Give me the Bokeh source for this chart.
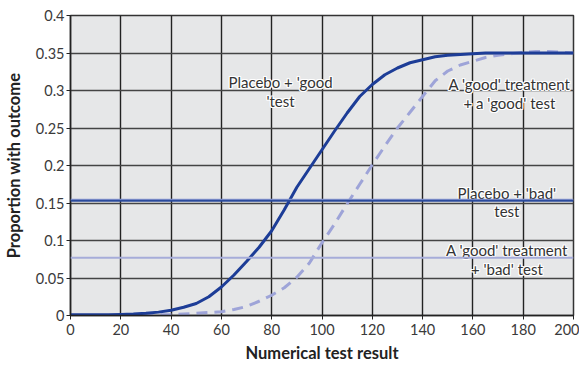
from bokeh.plotting import figure
from bokeh.embed import file_html
from bokeh.resources import INLINE
from bokeh.models import FixedTicker, Span, ColumnDataSource
from bokeh.core.properties import value

# ---- data ----
x_vals = [0, 5, 10, 15, 20, 25, 30, 35, 40, 45, 50, 55, 60, 65, 70, 75, 80, 85, 90, 95, 100,
          105, 110, 115, 120, 125, 130, 135, 140, 145, 150, 155, 160, 165, 170, 175, 180,
          185, 190, 195, 200]
placebo_good = [0.001, 0.001, 0.001, 0.001, 0.0015, 0.002, 0.003, 0.0045, 0.007, 0.011, 0.016,
                0.025, 0.038, 0.054, 0.072, 0.091, 0.113, 0.141, 0.171, 0.196, 0.221,
                0.246, 0.270, 0.292, 0.308, 0.321, 0.330, 0.337, 0.341, 0.345, 0.347,
                0.348, 0.349, 0.350, 0.350, 0.350, 0.350, 0.350, 0.350, 0.350, 0.350]
treat_good = [0.0, 0.0, 0.0, 0.0, 0.0, 0.0, 0.0005, 0.001, 0.001, 0.002, 0.003,
              0.004, 0.005, 0.008, 0.012, 0.019, 0.027, 0.037, 0.051, 0.070, 0.097,
              0.122, 0.149, 0.175, 0.201, 0.226, 0.250, 0.271, 0.292, 0.313, 0.326,
              0.334, 0.339, 0.344, 0.347, 0.349, 0.351, 0.352, 0.352, 0.351, 0.350]
placebo_bad = 0.153
treat_bad = 0.077

x_ticks = [0, 20, 40, 60, 80, 100, 120, 140, 160, 180, 200]
x_tick_labels = ["0", "20", "40", "60", "80", "100", "120", "140", "160", "180", "200"]
y_ticks = [0, 0.05, 0.1, 0.15, 0.2, 0.25, 0.3, 0.35, 0.4]
y_tick_labels = ["0", "0.05", "0.1", "0.15", "0.2", "0.25", "0.3", "0.35", "0.4"]

x_title = "Numerical test result"
y_title = "Proportion with outcome"

ann_x = [83.5, 83.5, 174.5, 174.5, 173.5, 173.5, 173.5, 173.5]
ann_y = [0.312, 0.286, 0.309, 0.284, 0.164, 0.139, 0.087, 0.062]
ann_text = ["Placebo + 'good", "'test",
            "A 'good' treatment", "+ a 'good' test",
            "Placebo + 'bad'", "test",
            "A 'good' treatment", "+ 'bad' test"]

FONT = "Lato"

p = figure(width=579, height=367, x_range=(0, 200), y_range=(0, 0.4),
           output_backend="svg", toolbar_location=None,
           min_border_left=68, min_border_right=6, min_border_top=15, min_border_bottom=52)
p.background_fill_color = "#e6e7e8"
p.border_fill_color = "white"
p.outline_line_color = "#333333"
p.outline_line_width = 1.5

p.xaxis.ticker = FixedTicker(ticks=x_ticks)
p.yaxis.ticker = FixedTicker(ticks=y_ticks)
p.xaxis.major_label_overrides = {t: l for t, l in zip(x_ticks, x_tick_labels)}
p.yaxis.major_label_overrides = {t: l for t, l in zip(y_ticks, y_tick_labels)}

for ax in (p.xaxis, p.yaxis):
    ax.minor_tick_line_color = None
    ax.major_tick_in = 0
    ax.major_tick_out = 4
    ax.major_tick_line_color = "#222222"
    ax.axis_line_color = "#222222"
    ax.axis_line_width = 1.5
    ax.major_label_text_font = FONT
    ax.major_label_text_font_size = "14.5px"
    ax.major_label_text_color = "#3a3a3a"
    ax.axis_label_text_font = FONT
    ax.axis_label_text_font_size = "16.5px"
    ax.axis_label_text_font_style = "bold"
    ax.axis_label_text_color = "#222222"

p.xaxis.axis_label = x_title
p.yaxis.axis_label = y_title
p.xaxis.major_label_standoff = 4
p.xaxis.axis_label_standoff = 5
p.yaxis.major_label_standoff = 2
p.yaxis.axis_label_standoff = 9

p.xgrid.grid_line_color = "#222222"
p.xgrid.grid_line_width = 1.4
p.ygrid.grid_line_color = "#444444"
p.ygrid.grid_line_width = 1.4

# horizontal lines
p.add_layout(Span(location=treat_bad, dimension="width", line_color="#a6acd9", line_width=2))
p.add_layout(Span(location=placebo_bad + 0.0015, dimension="width", line_color="#8e9bd2", line_width=2))
p.add_layout(Span(location=placebo_bad, dimension="width", line_color="#2a4a9c", line_width=1.8))

src = ColumnDataSource(dict(x=x_vals, pg=placebo_good, tg=treat_good))
p.line("x", "tg", source=src, line_color="#9ea4d8", line_width=3, line_dash="11 7")
p.line("x", "pg", source=src, line_color="#1d3d97", line_width=3)

# annotations with white halo
tsrc = ColumnDataSource(dict(x=ann_x, y=ann_y, t=ann_text))
for dx, dy in [(-1, 0), (1, 0), (0, -1), (0, 1), (-1, -1), (1, 1), (-1, 1), (1, -1)]:
    p.text("x", "y", text="t", source=tsrc, x_offset=dx, y_offset=dy,
           text_color="white", text_font=value(FONT), text_font_size="15px",
           text_align="center", text_baseline="middle")
p.text("x", "y", text="t", source=tsrc, text_color="#333333", text_font=value(FONT),
       text_font_size="15px", text_align="center", text_baseline="middle")

open("out.html", "w").write(file_html(p, INLINE))
